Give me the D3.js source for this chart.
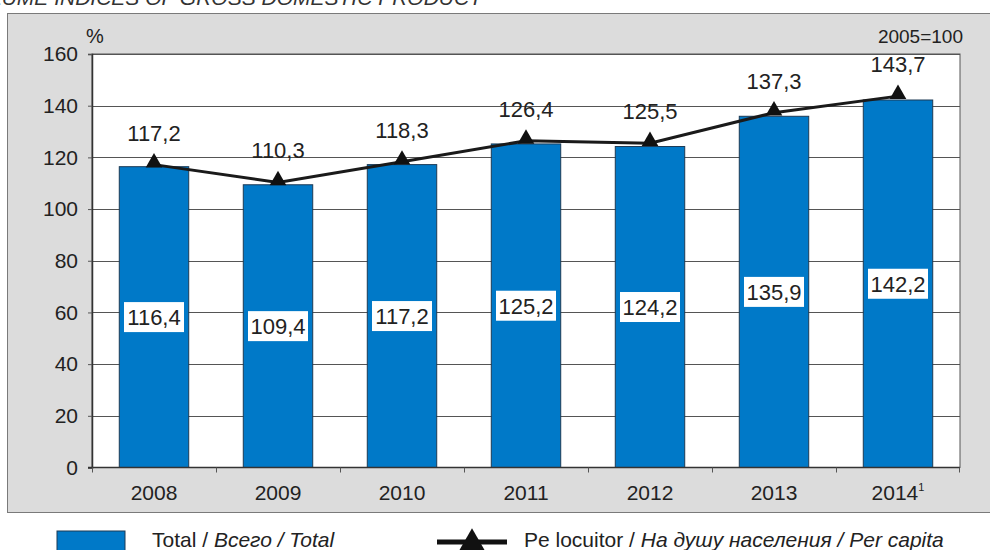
<!DOCTYPE html>
<html>
<head>
<meta charset="utf-8">
<script src="https://cdn.jsdelivr.net/npm/d3@7"></script>
<style>
  body { margin: 0; background: #fff; }
  svg { display: block; font-family: "Liberation Sans", Arial, sans-serif; }
</style>
</head>
<body>
<svg width="990" height="550"></svg>
<script>
const years = ["2008", "2009", "2010", "2011", "2012", "2013", "2014"];
const totalValues = [116.4, 109.4, 117.2, 125.2, 124.2, 135.9, 142.2];
const perCapitaValues = [117.2, 110.3, 118.3, 126.4, 125.5, 137.3, 143.7];
const yTicks = [0, 20, 40, 60, 80, 100, 120, 140, 160];

const fmt = v => v.toFixed(1).replace(".", ",");

const svg = d3.select("svg");

// title, cut off at the top edge
svg.append("text")
  .attr("x", 482).attr("y", 5)
  .attr("text-anchor", "end")
  .style("font-size", "21px")
  .style("font-style", "italic")
  .attr("fill", "#333")
  .text("VOLUME INDICES OF GROSS DOMESTIC PRODUCT");

// gray panel
svg.append("rect")
  .attr("x", 7.5).attr("y", 13.5)
  .attr("width", 1000).attr("height", 499)
  .attr("fill", "#dcdcdc")
  .attr("stroke", "#7a7a7a")
  .attr("stroke-width", 1);

const plot = { left: 92, right: 960, top: 54, bottom: 467.5 };

const x = d3.scaleBand()
  .domain(years)
  .range([plot.left, plot.right])
  .paddingInner(0.44)
  .paddingOuter(0.22);

const y = d3.scaleLinear()
  .domain([0, 160])
  .range([plot.bottom, plot.top]);

// plot background
svg.append("rect")
  .attr("x", plot.left).attr("y", plot.top)
  .attr("width", plot.right - plot.left).attr("height", plot.bottom - plot.top)
  .attr("fill", "#fff")
  .attr("stroke", "#555")
  .attr("stroke-width", 1);

// grid lines
svg.append("g")
  .selectAll("line")
  .data(yTicks.filter(d => d > 0))
  .join("line")
  .attr("x1", plot.left).attr("x2", plot.right)
  .attr("y1", d => Math.round(y(d)) + 0.5).attr("y2", d => Math.round(y(d)) + 0.5)
  .attr("stroke", "#555")
  .attr("stroke-width", 1);

// y axis
const yAxis = svg.append("g")
  .attr("transform", `translate(${plot.left},0)`)
  .call(d3.axisLeft(y).tickValues(yTicks).tickSize(4).tickPadding(10));
yAxis.select(".domain").attr("stroke", "#333").attr("stroke-width", 1.5);
yAxis.selectAll(".tick line").attr("stroke", "#555");
yAxis.selectAll(".tick text")
  .style("font-size", "21px")
  .attr("fill", "#222");

svg.append("text")
  .attr("x", 86).attr("y", 43)
  .style("font-size", "20px")
  .attr("fill", "#222")
  .text("%");

svg.append("text")
  .attr("x", 963).attr("y", 43)
  .attr("text-anchor", "end")
  .style("font-size", "19px")
  .attr("fill", "#222")
  .text("2005=100");

// bars
svg.append("g")
  .selectAll("rect")
  .data(totalValues)
  .join("rect")
  .attr("x", (d, i) => x(years[i]))
  .attr("y", d => y(d))
  .attr("width", x.bandwidth())
  .attr("height", d => y(0) - y(d))
  .attr("fill", "#0079c8")
  .attr("stroke", "#1d3a55")
  .attr("stroke-width", 1);

// x axis
const xAxis = svg.append("g")
  .attr("transform", `translate(0,${plot.bottom})`);
xAxis.append("line")
  .attr("x1", plot.left - 4).attr("x2", plot.right)
  .attr("stroke", "#333").attr("stroke-width", 1.5);
xAxis.selectAll(".xtick")
  .data(years)
  .join("line")
  .attr("class", "xtick")
  .attr("x1", (d, i) => plot.left + i * x.step() + 0.5)
  .attr("x2", (d, i) => plot.left + i * x.step() + 0.5)
  .attr("y1", 0).attr("y2", 5)
  .attr("stroke", "#555");
xAxis.append("line")
  .attr("x1", plot.right - 0.5).attr("x2", plot.right - 0.5)
  .attr("y1", 0).attr("y2", 5)
  .attr("stroke", "#555");
const xLabels = xAxis.selectAll(".xlabel")
  .data(years)
  .join("text")
  .attr("class", "xlabel")
  .attr("x", d => x(d) + x.bandwidth() / 2)
  .attr("y", 32)
  .attr("text-anchor", "middle")
  .style("font-size", "21px")
  .attr("fill", "#222")
  .text(d => d);
xLabels.filter(d => d === "2014")
  .append("tspan")
  .attr("dy", -9)
  .style("font-size", "11px")
  .text("1");

// bar value labels in white boxes
const barLabels = svg.append("g")
  .selectAll("g")
  .data(totalValues)
  .join("g")
  .attr("transform", (d, i) => `translate(${x(years[i]) + x.bandwidth() / 2},${(y(d) + y(0)) / 2})`);
barLabels.append("rect")
  .attr("x", -30).attr("y", -15)
  .attr("width", 60).attr("height", 30)
  .attr("fill", "#fff");
barLabels.append("text")
  .attr("y", 8)
  .attr("text-anchor", "middle")
  .style("font-size", "22px")
  .attr("fill", "#222")
  .text(d => fmt(d));

// per capita line
const line = d3.line()
  .x((d, i) => x(years[i]) + x.bandwidth() / 2)
  .y(d => y(d));
svg.append("path")
  .datum(perCapitaValues)
  .attr("d", line)
  .attr("fill", "none")
  .attr("stroke", "#1a1a1a")
  .attr("stroke-width", 3);

const tri = d3.symbol().type(d3.symbolTriangle).size(120);
svg.append("g")
  .selectAll("path")
  .data(perCapitaValues)
  .join("path")
  .attr("transform", (d, i) => `translate(${x(years[i]) + x.bandwidth() / 2},${y(d) - 2})`)
  .attr("d", tri)
  .attr("fill", "#111");

svg.append("g")
  .selectAll("text")
  .data(perCapitaValues)
  .join("text")
  .attr("x", (d, i) => x(years[i]) + x.bandwidth() / 2)
  .attr("y", d => y(d) - 24)
  .attr("text-anchor", "middle")
  .style("font-size", "22px")
  .attr("fill", "#222")
  .text(d => fmt(d));

// legend
svg.append("rect")
  .attr("x", 57).attr("y", 531)
  .attr("width", 68).attr("height", 20)
  .attr("fill", "#0079c8")
  .attr("stroke", "#1d3a55");
const legText1 = svg.append("text")
  .attr("x", 152).attr("y", 547)
  .style("font-size", "21px")
  .attr("fill", "#222");
legText1.append("tspan").text("Total / ");
legText1.append("tspan").style("font-style", "italic").text("Всего / Total");

svg.append("line")
  .attr("x1", 437).attr("x2", 507)
  .attr("y1", 542).attr("y2", 542)
  .attr("stroke", "#111").attr("stroke-width", 5);
svg.append("path")
  .attr("transform", "translate(472,543)")
  .attr("d", d3.symbol().type(d3.symbolTriangle).size(280))
  .attr("fill", "#111");
const legText2 = svg.append("text")
  .attr("x", 524).attr("y", 547)
  .style("font-size", "21px")
  .attr("fill", "#222");
legText2.append("tspan").text("Pe locuitor / ");
legText2.append("tspan").style("font-style", "italic").text("На душу населения / Per capita");
</script>
</body>
</html>
